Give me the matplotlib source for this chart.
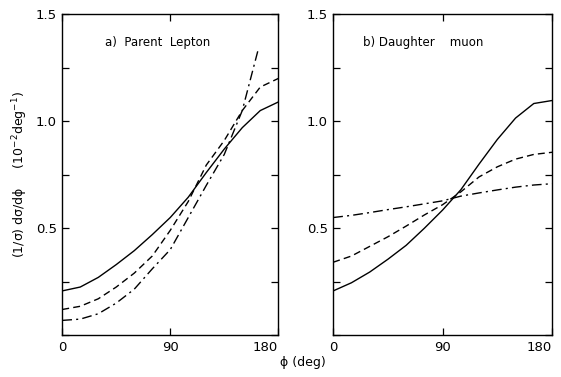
import numpy as np
import matplotlib
matplotlib.use("Agg")
import matplotlib.pyplot as plt
from matplotlib.ticker import MultipleLocator

plt.rcParams['font.family'] = ['DejaVu Sans']

# angle grid (deg)
phi = [0, 15, 30, 45, 60, 75, 90, 105, 120, 135, 150, 165, 180]

# a) parent lepton
a_solid = [0.207, 0.225, 0.27, 0.33, 0.395, 0.47, 0.55, 0.645, 0.76, 0.87, 0.97, 1.05, 1.09]
a_dash = [0.12, 0.135, 0.17, 0.225, 0.29, 0.37, 0.49, 0.625, 0.795, 0.91, 1.05, 1.16, 1.2]
phi_dd = [0, 15, 30, 45, 60, 75, 90, 105, 120, 135, 150, 163.5]
a_dashdot = [0.069, 0.075, 0.1, 0.15, 0.215, 0.31, 0.40, 0.55, 0.70, 0.845, 1.05, 1.34]

# b) daughter muon
b_solid = [0.207, 0.245, 0.295, 0.355, 0.42, 0.5, 0.585, 0.68, 0.80, 0.915, 1.015, 1.083, 1.097]
b_dash = [0.341, 0.37, 0.415, 0.46, 0.51, 0.562, 0.61, 0.67, 0.74, 0.787, 0.823, 0.845, 0.855]
b_dashdot = [0.55, 0.56, 0.573, 0.587, 0.6, 0.614, 0.628, 0.65, 0.665, 0.679, 0.692, 0.702, 0.708]

titles = ["a)  Parent  Lepton", "b) Daughter    muon"]
title_x = [0.2, 0.135]

fig = plt.figure(figsize=(5.61, 3.77), dpi=100)
axL = fig.add_axes([0.111, 0.111, 0.385, 0.851])
axR = fig.add_axes([0.594, 0.111, 0.39, 0.851])

ls_dash = (0, (5, 3))
ls_dd = (0, (7, 3, 1.5, 3))

axL.plot(phi, a_solid, color='black', lw=1.0)
axL.plot(phi, a_dash, color='black', lw=1.0, ls=ls_dash)
axL.plot(phi_dd, a_dashdot, color='black', lw=1.0, ls=ls_dd)

axR.plot(phi, b_solid, color='black', lw=1.0)
axR.plot(phi, b_dash, color='black', lw=1.0, ls=ls_dash)
axR.plot(phi, b_dashdot, color='black', lw=1.0, ls=ls_dd)

for ax, t, tx in zip([axL, axR], titles, title_x):
    ax.set_xlim(0, 180)
    ax.set_ylim(0.0, 1.49)
    ax.set_xticks([0, 90, 180])
    ax.set_xticklabels(['0', '90', '180'])
    ax.set_yticks([0.5, 1.0, 1.5])
    ax.set_yticklabels(['0.5', '1.0', '1.5'])
    ax.yaxis.set_minor_locator(MultipleLocator(0.25))
    ax.tick_params(which='both', direction='in', top=True, right=True,
                   labelsize=9.5, length=5, width=0.9, pad=4)
    ax.tick_params(which='minor', length=5)
    ax.get_xticklabels()[-1].set_horizontalalignment('right')
    for s in ax.spines.values():
        s.set_linewidth(1.0)
    ax.text(tx, 0.9, t, transform=ax.transAxes, fontsize=8.5)

axL.set_ylabel('(1/σ) dσ/dϕ     (10$^{-2}$deg$^{-1}$)', fontsize=9)
fig.text(0.54, 0.03, 'ϕ (deg)', ha='center', fontsize=9)

fig.savefig('out.png', dpi=100)
